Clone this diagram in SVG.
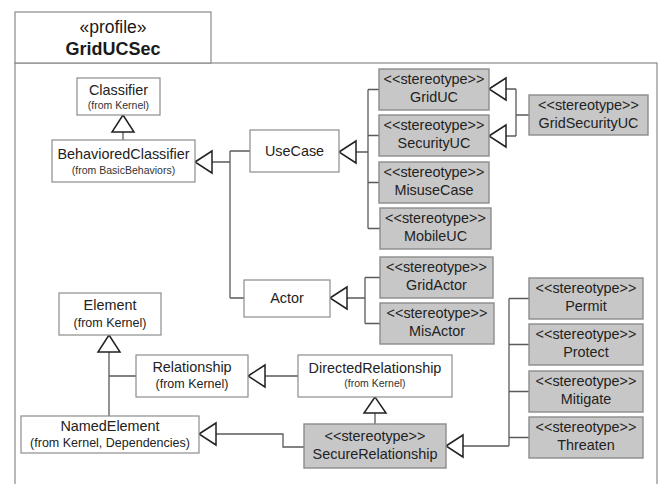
<svg xmlns="http://www.w3.org/2000/svg" width="661" height="484" viewBox="0 0 661 484">
  <style>
    .frame { fill: #ffffff; stroke: #8a8a8a; stroke-width: 1.2; }
    .cls { fill: #ffffff; stroke: #8c8c8c; stroke-width: 1.2; }
    .st { fill: #c7c7c7; stroke: #8c8c8c; stroke-width: 1.4; }
    .name { font-family: "Liberation Sans", Arial, sans-serif; font-size: 14.4px; fill: #222222; text-anchor: middle; }
    .from { font-family: "Liberation Sans", Arial, sans-serif; font-size: 10.5px; fill: #333333; text-anchor: middle; }
    .title { font-family: "Liberation Sans", Arial, sans-serif; font-size: 17.5px; fill: #1a1a1a; text-anchor: middle; }
    .bold { font-weight: bold; font-size: 18px; }
    .line { fill: none; stroke: #5a5a5a; stroke-width: 1.3; }
    .head { fill: #ffffff; stroke: #222222; stroke-width: 1.5; stroke-linejoin: miter; }
  </style>

  <!-- profile package -->
  <g id="profile">
    <rect class="frame" x="15" y="63" width="642" height="440"/>
    <rect class="frame" x="15" y="12" width="196" height="51"/>
    <text class="title" x="113" y="33">«profile»</text>
    <text class="title bold" x="113" y="55">GridUCSec</text>
  </g>

  <!-- generalization connectors -->
  <g id="connectors">
    <!-- BehavioredClassifier -> Classifier -->
    <path class="line" d="M123,132 V140"/>
    <polygon class="head" points="123,115 112,132 134,132"/>

    <!-- UseCase, Actor -> BehavioredClassifier -->
    <path class="line" d="M212,162 H230 M230,151 V298 M230,151 H250 M230,298 H244"/>
    <polygon class="head" points="195,162 212,151 212,173"/>

    <!-- stereotypes -> UseCase -->
    <path class="line" d="M355,152 H368 M368,89.5 V228.5 M368,89.5 H379 M368,135.5 H379 M368,182.5 H379 M368,228.5 H380"/>
    <polygon class="head" points="339,152 356,141 356,163"/>

    <!-- GridSecurityUC -> GridUC, SecurityUC -->
    <path class="line" d="M506,89 H516 M506,136 H516 M516,89 V136 M516,115 H529"/>
    <polygon class="head" points="489,89 506,78 506,100"/>
    <polygon class="head" points="489,136 506,125 506,147"/>

    <!-- GridActor, MisActor -> Actor -->
    <path class="line" d="M347,298 H365 M365,277.5 V323.5 M365,277.5 H380 M365,323.5 H380"/>
    <polygon class="head" points="330,298 347,287 347,309"/>

    <!-- Permit, Protect, Mitigate, Threaten -> SecureRelationship -->
    <path class="line" d="M509,298.5 V446 M509,298.5 H529 M509,344.5 H529 M509,391.5 H529 M509,437.5 H529 M463,446 H509"/>
    <polygon class="head" points="446,446 463,435 463,457"/>

    <!-- SecureRelationship -> DirectedRelationship -->
    <path class="line" d="M375,413 V424"/>
    <polygon class="head" points="375,397 364,413 386,413"/>

    <!-- DirectedRelationship -> Relationship -->
    <path class="line" d="M265,376 H298"/>
    <polygon class="head" points="248,376 265,365 265,387"/>

    <!-- NamedElement, Relationship -> Element -->
    <path class="line" d="M109,352 V416 M109,376 H136"/>
    <polygon class="head" points="109,335 98,352 120,352"/>

    <!-- SecureRelationship -> NamedElement -->
    <path class="line" d="M216,434 H283 V447 H304"/>
    <polygon class="head" points="199,434 216,423 216,445"/>
  </g>

  <!-- metaclasses -->
  <g id="Classifier">
    <rect class="cls" x="77" y="78" width="83" height="37"/>
    <text class="name" x="118.5" y="95">Classifier</text>
    <text class="from" x="118.5" y="109">(from Kernel)</text>
  </g>
  <g id="BehavioredClassifier">
    <rect class="cls" x="52" y="140" width="143" height="42"/>
    <text class="name" x="123.5" y="159">BehavioredClassifier</text>
    <text class="from" x="123.5" y="174">(from BasicBehaviors)</text>
  </g>
  <g id="UseCase">
    <rect class="cls" x="250" y="130" width="89" height="42"/>
    <text class="name" x="294.5" y="156">UseCase</text>
  </g>
  <g id="Actor">
    <rect class="cls" x="244" y="280" width="86" height="37"/>
    <text class="name" x="287" y="303">Actor</text>
  </g>
  <g id="Element">
    <rect class="cls" x="59" y="293" width="102" height="42"/>
    <text class="name" x="110" y="310">Element</text>
    <text class="name" x="110" y="327" style="font-size:12.5px">(from Kernel)</text>
  </g>
  <g id="Relationship">
    <rect class="cls" x="136" y="355" width="112" height="42"/>
    <text class="name" x="192" y="372">Relationship</text>
    <text class="name" x="192" y="388" style="font-size:12.5px">(from Kernel)</text>
  </g>
  <g id="DirectedRelationship">
    <rect class="cls" x="298" y="355" width="154" height="42"/>
    <text class="name" x="375" y="373">DirectedRelationship</text>
    <text class="from" x="375" y="387">(from Kernel)</text>
  </g>
  <g id="NamedElement">
    <rect class="cls" x="21" y="416" width="178" height="37"/>
    <text class="name" x="110" y="431">NamedElement</text>
    <text class="name" x="110" y="447" style="font-size:12.5px">(from Kernel, Dependencies)</text>
  </g>

  <!-- stereotypes -->
  <g id="GridUC">
    <rect class="st" x="379" y="69" width="110" height="41"/>
    <text class="name" x="434" y="84">&lt;&lt;stereotype&gt;&gt;</text>
    <text class="name" x="434" y="102">GridUC</text>
  </g>
  <g id="SecurityUC">
    <rect class="st" x="379" y="115" width="110" height="41"/>
    <text class="name" x="434" y="130">&lt;&lt;stereotype&gt;&gt;</text>
    <text class="name" x="434" y="148">SecurityUC</text>
  </g>
  <g id="MisuseCase">
    <rect class="st" x="379" y="162" width="110" height="41"/>
    <text class="name" x="434" y="177">&lt;&lt;stereotype&gt;&gt;</text>
    <text class="name" x="434" y="195">MisuseCase</text>
  </g>
  <g id="MobileUC">
    <rect class="st" x="380" y="208" width="111" height="41"/>
    <text class="name" x="435.5" y="223">&lt;&lt;stereotype&gt;&gt;</text>
    <text class="name" x="435.5" y="241">MobileUC</text>
  </g>
  <g id="GridSecurityUC">
    <rect class="st" x="529" y="95" width="119" height="40"/>
    <text class="name" x="588.5" y="110">&lt;&lt;stereotype&gt;&gt;</text>
    <text class="name" x="588.5" y="128">GridSecurityUC</text>
  </g>
  <g id="GridActor">
    <rect class="st" x="380" y="257" width="113" height="41"/>
    <text class="name" x="436.5" y="272">&lt;&lt;stereotype&gt;&gt;</text>
    <text class="name" x="436.5" y="290">GridActor</text>
  </g>
  <g id="MisActor">
    <rect class="st" x="380" y="303" width="114" height="41"/>
    <text class="name" x="437" y="318">&lt;&lt;stereotype&gt;&gt;</text>
    <text class="name" x="437" y="336">MisActor</text>
  </g>
  <g id="Permit">
    <rect class="st" x="529" y="278" width="114" height="41"/>
    <text class="name" x="586" y="293">&lt;&lt;stereotype&gt;&gt;</text>
    <text class="name" x="586" y="311">Permit</text>
  </g>
  <g id="Protect">
    <rect class="st" x="529" y="324" width="114" height="41"/>
    <text class="name" x="586" y="339">&lt;&lt;stereotype&gt;&gt;</text>
    <text class="name" x="586" y="357">Protect</text>
  </g>
  <g id="Mitigate">
    <rect class="st" x="529" y="371" width="114" height="41"/>
    <text class="name" x="586" y="386">&lt;&lt;stereotype&gt;&gt;</text>
    <text class="name" x="586" y="404">Mitigate</text>
  </g>
  <g id="Threaten">
    <rect class="st" x="529" y="417" width="114" height="41"/>
    <text class="name" x="586" y="432">&lt;&lt;stereotype&gt;&gt;</text>
    <text class="name" x="586" y="450">Threaten</text>
  </g>
  <g id="SecureRelationship">
    <rect class="st" x="304" y="424" width="142" height="44"/>
    <text class="name" x="375" y="441">&lt;&lt;stereotype&gt;&gt;</text>
    <text class="name" x="375" y="459">SecureRelationship</text>
  </g>
</svg>
